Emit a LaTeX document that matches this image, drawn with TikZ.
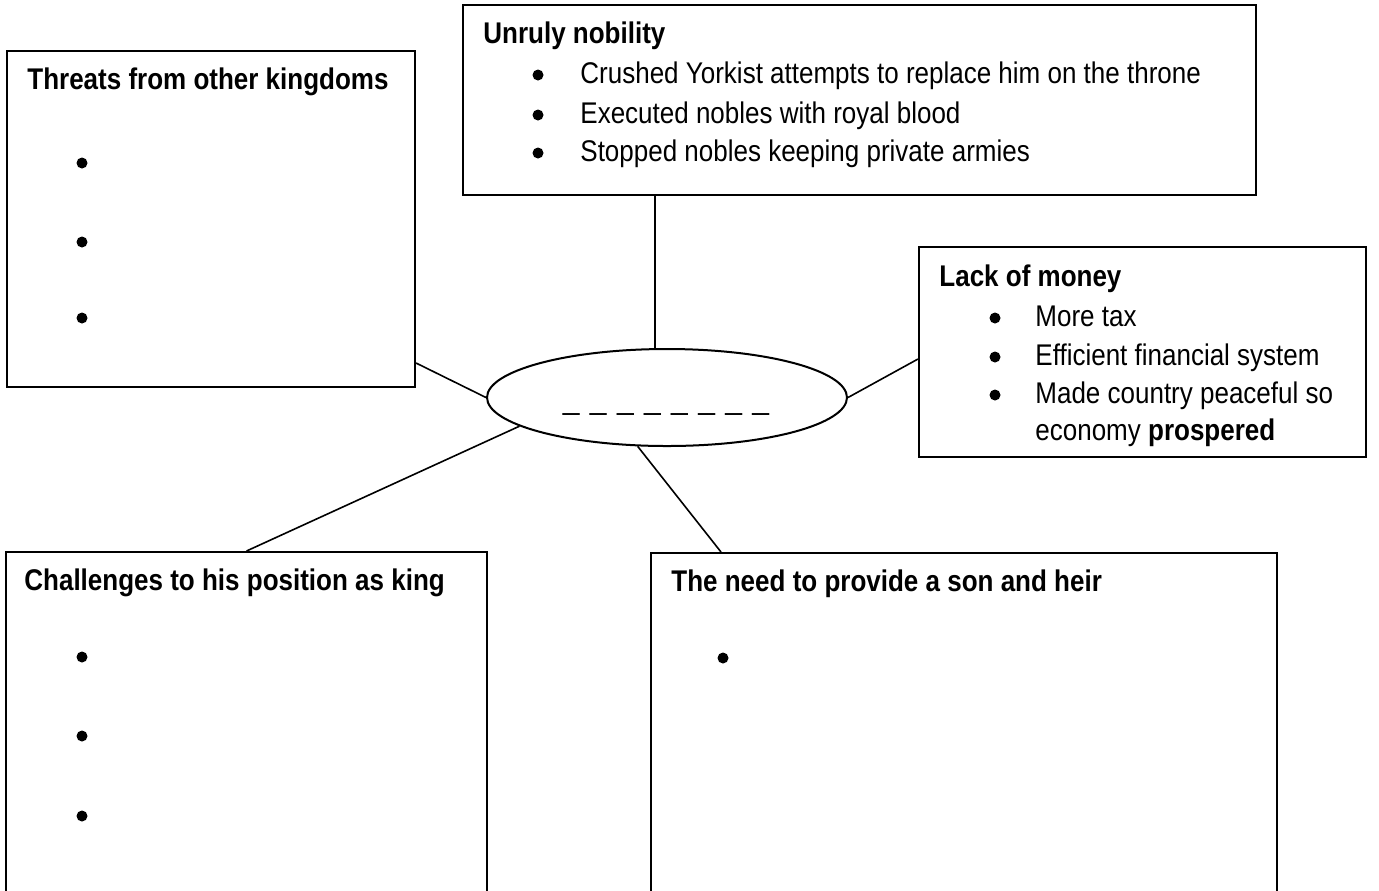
\documentclass[tikz,border=0pt]{standalone}
\usepackage{fontspec}
\setmainfont{Liberation Sans}
\usepackage{graphicx}
\usetikzlibrary{fit,shapes.geometric}

\newcommand{\tall}[1]{\scalebox{1}[1.15]{#1}}

\begin{document}
\begin{tikzpicture}[x=0.5pt, y=-0.5pt,
		box/.style={draw, line width=1pt, inner sep=0pt},
		head/.style={anchor=base west, inner sep=0pt, font=\fontsize{13}{15}\selectfont\bfseries},
		item/.style={anchor=base west, inner sep=0pt, font=\fontsize{13}{15}\selectfont},
		dot/.style={circle, fill, inner sep=0pt, minimum size=5.5pt},
		link/.style={line width=0.8pt},
	]
		\clip (0,0) rectangle (1379,890);
		\fill[white] (0,0) rectangle (1379,890);

		% the five boxes
		\node[box, fit={(7,51) (415,387)}] (threats) {};
		\node[box, fit={(463,5) (1256,195)}] (unruly) {};
		\node[box, fit={(919,247) (1366,457)}] (lack) {};
		\node[box, fit={(6,552) (487,905)}] (challenges) {};
		\node[box, fit={(651,553) (1277,905)}] (need) {};

		% centre
		\node[ellipse, draw, line width=1pt, inner sep=0pt, minimum width=180pt, minimum height=48.5pt] (hub) at (667,397.5) {};
		\node[anchor=base, inner sep=0pt, font=\fontsize{15}{18}\selectfont] (blank) at (666,409) {\_\hspace{5.2pt}\_\hspace{5.2pt}\_\hspace{5.2pt}\_\hspace{5.2pt}\_\hspace{5.2pt}\_\hspace{5.2pt}\_\hspace{5.2pt}\_};

		\draw[link] ([yshift=12.5pt]threats.south east) -- (hub.west);
		\draw[link] (hub.104) -- (hub.104 |- unruly.south);
		\draw[link] (hub.east) -- ([yshift=-3.5pt]lack.west);
		\draw[link] (hub.191) -- (challenges.north);
		\draw[link] (hub.239) -- ([xshift=35.5pt]need.north west);

		% headings
		\node[head] (threatsT) at ([shift={(21,39)}]threats.north west) {\tall{Threats from other kingdoms}};
		\node[head] (unrulyT) at ([shift={(21,39)}]unruly.north west) {\tall{Unruly nobility}};
		\node[head] (lackT) at ([shift={(21,40)}]lack.north west) {\tall{Lack of money}};
		\node[head] (challengesT) at ([shift={(19,39)}]challenges.north west) {\tall{Challenges to his position as king}};
		\node[head] (needT) at ([shift={(21,39)}]need.north west) {\tall{The need to provide a son and heir}};

		% unruly nobility
		\node[dot] (u1) at (538,75) {};
		\node[dot] (u2) at (538,115) {};
		\node[dot] (u3) at (538,153) {};
		\node[item] (u1t) at (580,83) {\tall{Crushed Yorkist attempts to replace him on the throne}};
		\node[item] (u2t) at (580,123) {\tall{Executed nobles with royal blood}};
		\node[item] (u3t) at (580,161) {\tall{Stopped nobles keeping private armies}};

		% lack of money
		\node[dot] (m1) at (995,318) {};
		\node[dot] (m2) at (995,357) {};
		\node[dot] (m3) at (995,395) {};
		\node[item] (m1t) at (1035,326) {\tall{More tax}};
		\node[item] (m2t) at (1035,365) {\tall{Efficient financial system}};
		\node[item] (m3t) at (1035,403) {\tall{Made country peaceful so}};
		\node[item] (m4t) at (1035,440) {\tall{economy \textbf{prospered}}};

		% empty bullets
		\node[dot] (t1) at (82,163) {};
		\node[dot] (t2) at (82,242) {};
		\node[dot] (t3) at (82,318) {};
		\node[dot] (c1) at (82,657) {};
		\node[dot] (c2) at (82,736) {};
		\node[dot] (c3) at (82,816) {};
		\node[dot] (n1) at (723,658) {};
	\end{tikzpicture}
\end{document}
